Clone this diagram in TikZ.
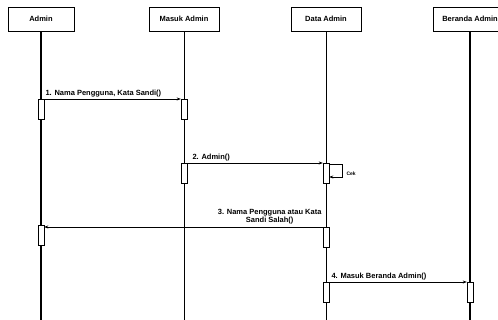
\documentclass[tikz,border=0pt]{standalone}
\usepackage{fontspec}
\setmainfont{Liberation Sans}
\usetikzlibrary{arrows.meta, positioning, shadows}

\begin{document}
\begin{tikzpicture}[x=1pt, y=-1pt,
  head/.style={draw, fill=white, minimum height=24pt, inner sep=2pt,
               font=\fontsize{7.5}{9}\selectfont\bfseries,
               drop shadow={shadow xshift=1pt, shadow yshift=-1pt, fill=black!70, opacity=1}},
  act/.style={draw, fill=white, minimum width=6pt, minimum height=20pt, inner sep=0pt, anchor=north},
  life/.style={line width=0.7pt},
  msg/.style={-{Stealth[length=4pt, width=3pt]}, line width=0.6pt},
  lbl/.style={font=\fontsize{7.5}{7.5}\selectfont\bfseries, inner sep=1pt}
]
  \useasboundingbox (0,0) rectangle (498,320);
  \coordinate (bot) at (0,320);

  % lifeline heads
  \node[head, minimum width=66pt] (admin) at (41,19) {Admin};
  \node[head, minimum width=70pt] (masuk) at (184,19) {Masuk Admin};
  \node[head, minimum width=70pt] (data) at (326,19) {Data Admin};
  \node[head, minimum width=74pt] (beranda) at (470,19) {Beranda Admin};

  % lifelines
  \draw[life, line width=1.1pt] (admin.south) -- (admin.south |- bot);
  \draw[life] (masuk.south) -- (masuk.south |- bot);
  \draw[life] (data.south) -- (data.south |- bot);
  \draw[life, line width=1.1pt] (beranda.south) -- (beranda.south |- bot);

  % activations
  \node[act] (a1) at (41,99) {};
  \node[act] (m1) at (184,99) {};
  \node[act] (m2) at (184,163) {};
  \node[act] (d2) at (326,163) {};
  \node[act] (a3) at (41,225) {};
  \node[act] (d3) at (326,227) {};
  \node[act] (d4) at (326,282) {};
  \node[act] (b4) at (470,282) {};

  % messages
  \draw[msg] (a1.north east) -- (m1.north west)
    node[lbl, pos=0, anchor=south west, yshift=1pt] {1. Nama Pengguna, Kata Sandi()};
  \draw[msg] (m2.north east) -- (d2.north west)
    node[lbl, pos=0, anchor=south west, xshift=4pt, yshift=1pt] {2. Admin()};
  \draw[msg] ([yshift=-1pt]d2.north east) -- ++(13,0) -- ++(0,13)
    node[lbl, font=\fontsize{5}{6}\selectfont\bfseries, anchor=west, xshift=3pt, yshift=3pt] {Cek}
    -- ++(-13,0);
  \draw[msg] (d3.north west) -- (a3.east |- d3.north)
    node[lbl, pos=0, anchor=south east, align=center, yshift=2pt] {3. Nama Pengguna atau Kata\\Sandi Salah()};
  \draw[msg] (d4.north east) -- (b4.north west)
    node[lbl, pos=0, anchor=south west, xshift=1pt, yshift=1pt] {4. Masuk Beranda Admin()};
\end{tikzpicture}
\end{document}
